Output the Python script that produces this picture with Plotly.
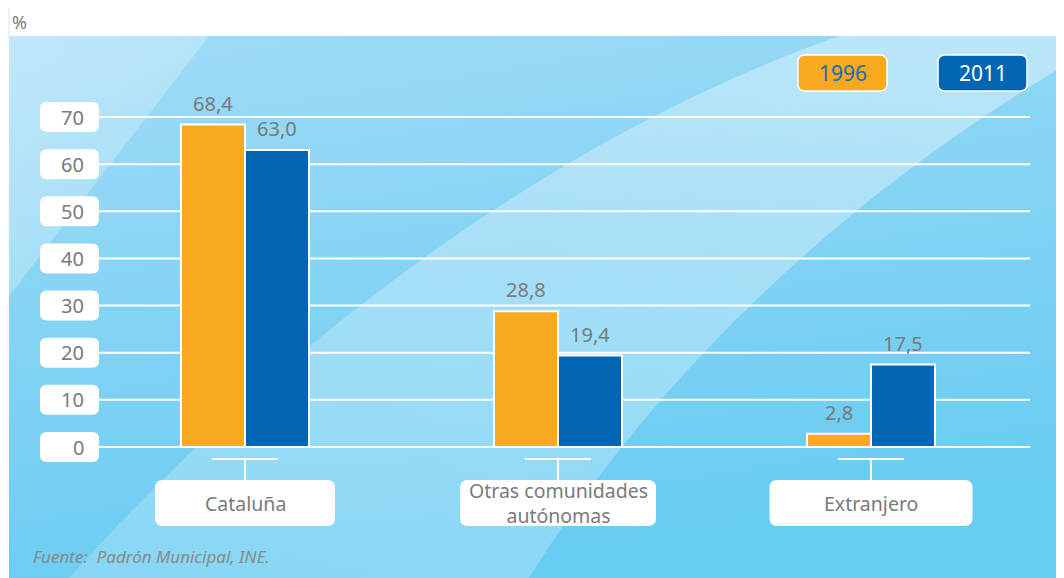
import base64
import plotly.graph_objects as go

# data
CATEGORIES = ["Cataluña", "Otras comunidades<br>autónomas", "Extranjero"]
SERIES = ["1996", "2011"]
VALUES_1996 = [68.4, 28.8, 2.8]
VALUES_2011 = [63.0, 19.4, 17.5]
Y_TICKS = [0, 10, 20, 30, 40, 50, 60, 70]
UNIT = "%"
SOURCE = "Fuente:  Padrón Municipal, INE."

# look
ORANGE = "#f8a91d"
BLUE = "#0066b3"
GREY = "#7a7a7a"
FONT = "Noto Sans"
CAT_BOX_W = [180, 196, 203]

W, H = 1064, 578
PAGE = 8                      # browser body margin
LEFT, TOP = 9, 36             # page pixels where the blue panel starts
X0_PX, X_STEP = 245, 313      # pixel of first category, pixels per category
Y0_PX, Y_PER = 447, 330 / 70  # pixel of y=0, pixels per unit
PW, PH = W - LEFT, H - TOP


def xd(px):
    return (px - X0_PX) / X_STEP


def yd(py):
    return (Y0_PX - py) / Y_PER


def rbox(w, h, r, cy=0):
    x0, x1 = -w / 2, w / 2
    y0, y1 = cy - h / 2, cy + h / 2
    return (f"M{x0 + r},{y0} L{x1 - r},{y0} Q{x1},{y0} {x1},{y0 + r} "
            f"L{x1},{y1 - r} Q{x1},{y1} {x1 - r},{y1} L{x0 + r},{y1} "
            f"Q{x0},{y1} {x0},{y1 - r} L{x0},{y0 + r} Q{x0},{y0} {x0 + r},{y0} Z")


def fmt(v):
    return f"{v:.1f}".replace(".", ",")


# background picture (gradient + light swooshes)
svg = f"""<svg xmlns='http://www.w3.org/2000/svg' width='{PW}' height='{PH}' viewBox='0 0 1055 542' preserveAspectRatio='none'>
<defs>
<linearGradient id='g' x1='0' y1='0' x2='0.3' y2='1'>
<stop offset='0' stop-color='#a0dbf6'/><stop offset='1' stop-color='#69ccf2'/>
</linearGradient>
<linearGradient id='s' x1='0' y1='1' x2='1' y2='0'>
<stop offset='0' stop-color='#ffffff' stop-opacity='0.18'/><stop offset='1' stop-color='#ffffff' stop-opacity='0.38'/>
</linearGradient>
<linearGradient id='t' x1='0' y1='0' x2='1' y2='1'>
<stop offset='0' stop-color='#ffffff' stop-opacity='0.35'/><stop offset='1' stop-color='#ffffff' stop-opacity='0.15'/>
</linearGradient>
</defs>
<rect width='1055' height='542' fill='url(#g)'/>
<path d='M0,0 L200,0 L0,260 Z' fill='url(#t)'/>
<path d='M60,542 C250,330 520,110 830,0 L1055,0 L1055,30 C820,170 640,350 520,542 Z' fill='url(#s)'/>
</svg>"""
bg_uri = "data:image/svg+xml;base64," + base64.b64encode(svg.encode("utf-8")).decode()

x_idx = list(range(len(CATEGORIES)))
fig = go.Figure()
for name, vals, col in [(SERIES[0], VALUES_1996, ORANGE), (SERIES[1], VALUES_2011, BLUE)]:
    fig.add_trace(go.Bar(x=x_idx, y=vals, name=name, marker=dict(color=col, line=dict(color="white", width=2)),
                         showlegend=False, hoverinfo="skip"))

shapes = []
annotations = []

# gridlines + tick boxes
for t in Y_TICKS:
    shapes.append(dict(type="line", xref="x", yref="y", x0=xd(99), x1=xd(1030), y0=t, y1=t,
                       line=dict(color="white", width=2), layer="below"))
    shapes.append(dict(type="path", xref="x", yref="y", xsizemode="pixel", ysizemode="pixel",
                       xanchor=xd(69.5), yanchor=t, path=rbox(59, 30, 7),
                       fillcolor="white", line=dict(width=0)))
    annotations.append(dict(x=xd(86), y=t, xref="x", yref="y", text=str(t), showarrow=False,
                            xanchor="right", yanchor="middle", font=dict(size=20, color=GREY)))

# category ticks and boxes
for i, cat in enumerate(CATEGORIES):
    shapes.append(dict(type="path", xref="x", yref="y", xsizemode="pixel", ysizemode="pixel",
                       xanchor=i, yanchor=0, path="M-33,-12 L33,-12 M0,-12 L0,-33",
                       line=dict(color="white", width=2)))
    shapes.append(dict(type="path", xref="x", yref="y", xsizemode="pixel", ysizemode="pixel",
                       xanchor=i, yanchor=0, path=rbox(CAT_BOX_W[i], 46, 8, cy=-56),
                       fillcolor="white", line=dict(width=0)))
    annotations.append(dict(x=i, y=0, xref="x", yref="y", yshift=-56, text=cat, showarrow=False,
                            xanchor="center", yanchor="middle",
                            font=dict(size=19.5, color=GREY)))

# value labels
off = 32 / X_STEP
for i in x_idx:
    for dx, v in [(-off, VALUES_1996[i]), (off, VALUES_2011[i])]:
        annotations.append(dict(x=i + dx, y=v, xref="x", yref="y", yshift=6, text=fmt(v),
                                showarrow=False, xanchor="center", yanchor="bottom",
                                font=dict(size=20, color=GREY)))

# legend boxes
for name, col, tcol, cx in [(SERIES[0], ORANGE, "#1a6db3", 842.5), (SERIES[1], BLUE, "white", 982.5)]:
    shapes.append(dict(type="path", xref="x", yref="y", xsizemode="pixel", ysizemode="pixel",
                       xanchor=xd(cx), yanchor=yd(73), path=rbox(89, 36, 7),
                       fillcolor=col, line=dict(color="white", width=1.5)))
    annotations.append(dict(x=xd(cx), y=yd(73), xref="x", yref="y", text=name, showarrow=False,
                            xanchor="center", yanchor="middle", font=dict(size=21, color=tcol)))

# left edge line in the white header
shapes.append(dict(type="line", xref="paper", yref="paper", x0=0, x1=0, y0=1, y1=1 + TOP / PH,
                   line=dict(color="#c6e8f7", width=1)))

annotations.append(dict(x=2 / PW, y=1 + (TOP - PAGE - 1) / PH, xref="paper", yref="paper", text=UNIT,
                        showarrow=False, xanchor="left", yanchor="top", borderpad=0,
                        font=dict(size=18, color=GREY)))
annotations.append(dict(x=22 / PW, y=(H - 556) / PH, xref="paper", yref="paper",
                        text=SOURCE, showarrow=False, xanchor="left", yanchor="middle",
                        font=dict(size=17, color="#8a8a8a", style="italic")))

fig.update_layout(
    width=W - PAGE, height=H - PAGE,
    margin=dict(l=LEFT - PAGE, r=0, t=TOP - PAGE, b=0),
    paper_bgcolor="white", plot_bgcolor="rgba(0,0,0,0)",
    font=dict(family=FONT, color=GREY),
    barmode="group", bargap=1 - 128 / X_STEP, bargroupgap=0,
    xaxis=dict(range=[xd(LEFT), xd(W)], visible=False, fixedrange=True),
    yaxis=dict(range=[yd(H), yd(TOP)], visible=False, fixedrange=True),
    images=[dict(source=bg_uri, xref="paper", yref="paper", x=0, y=1, sizex=1, sizey=1,
                 sizing="stretch", xanchor="left", yanchor="top", layer="below")],
    shapes=shapes, annotations=annotations,
)

fig.write_html("out.html")
